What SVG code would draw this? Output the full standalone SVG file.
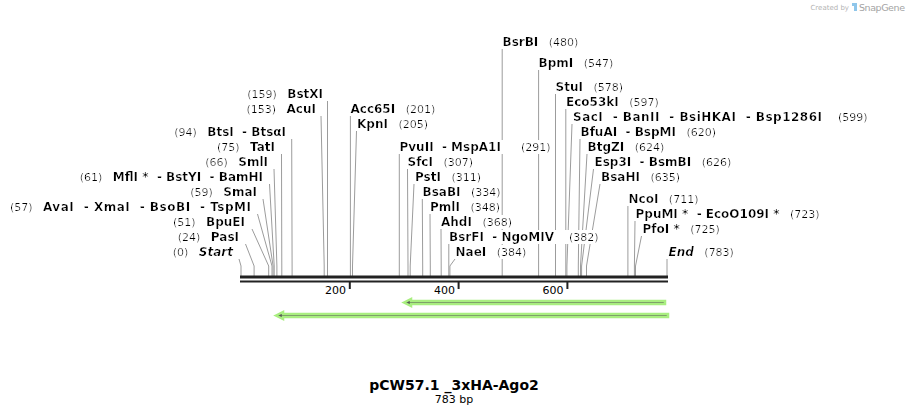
<svg xmlns="http://www.w3.org/2000/svg" width="909" height="415" viewBox="0 0 909 415">
<defs>
<style>
text{font-family:"DejaVu Sans",Verdana,sans-serif;fill:#000;white-space:pre}
.t{font-size:11px}
.n{font-size:12px;font-weight:bold}
.s{font-size:11px;font-weight:normal}
.i{font-style:italic}
.lbl{filter:url(#bg)}
.ln{fill:none;stroke:#9c9c9c;stroke-width:1}
.bb{fill:#222}
.feat{fill:#555;stroke:#a9ee80;stroke-width:2.5;stroke-linejoin:miter}
</style>
<filter id="bg" x="0" y="0" width="1" height="1"><feFlood flood-color="#ffffff"/><feComposite in="SourceGraphic" operator="over"/></filter>
</defs>
<rect width="909" height="415" fill="#fff"/>
<g id="logo"><text x="849" y="10" font-size="7" text-anchor="end" style="fill:#b4b4b4">Created by</text><path d="M852 3 h5 v8 h-3 v-5 h-2 z" fill="#8fc6ea"/><text x="859" y="11" font-size="9.5" textLength="46" style="fill:#a4a4a4">SnapGene</text></g>
<g id="connectors">
<polyline class="ln" points="327.5,101 327.5,266 327.5,276"/>
<polyline class="ln" points="321,116 324.2,266 324.2,276"/>
<polyline class="ln" points="291.7,139 292.1,266 292.1,276"/>
<polyline class="ln" points="281.5,154 281.8,266 281.8,276"/>
<polyline class="ln" points="274,169 276.9,266 276.9,276"/>
<polyline class="ln" points="269.5,184 274.2,266 274.2,276"/>
<polyline class="ln" points="263,199 273.1,266 273.1,276"/>
<polyline class="ln" points="257.5,214 272,266 272,276"/>
<polyline class="ln" points="252,229 268.7,266 268.7,276"/>
<polyline class="ln" points="245.5,244 254.1,266 254.1,276"/>
<polyline class="ln" points="239,259 241,266 241,276"/>
<polyline class="ln" points="350.4,116 350.4,266 350.4,276"/>
<polyline class="ln" points="356.5,131 352.5,266 352.5,276"/>
<polyline class="ln" points="399.3,154 399.3,266 399.3,276"/>
<polyline class="ln" points="407.5,169 408,266 408,276"/>
<polyline class="ln" points="414,184 410.2,266 410.2,276"/>
<polyline class="ln" points="422.3,199 422.7,266 422.7,276"/>
<polyline class="ln" points="430,214 430.3,266 430.3,276"/>
<polyline class="ln" points="441,229 441.2,266 441.2,276"/>
<polyline class="ln" points="448.8,244 448.8,266 448.8,276"/>
<polyline class="ln" points="455,259 449.9,266 449.9,276"/>
<polyline class="ln" points="502.2,49 502.2,266 502.2,276"/>
<polyline class="ln" points="538.6,70 538.6,266 538.6,276"/>
<polyline class="ln" points="555.5,94 555.5,266 555.5,276"/>
<polyline class="ln" points="565.8,109 565.8,266 565.8,276"/>
<polyline class="ln" points="572,124 566.9,266 566.9,276"/>
<polyline class="ln" points="580,139 578.3,266 578.3,276"/>
<polyline class="ln" points="587,154 580.5,266 580.5,276"/>
<polyline class="ln" points="593.5,169 581.6,266 581.6,276"/>
<polyline class="ln" points="600,184 586.5,266 586.5,276"/>
<polyline class="ln" points="627.9,206 627.9,266 627.9,276"/>
<polyline class="ln" points="635,221 634.4,266 634.4,276"/>
<polyline class="ln" points="641.5,236 635.5,266 635.5,276"/>
<polyline class="ln" points="667,259 667,266 667,276"/>
</g>
<g id="labels-left" text-anchor="end">
<g id="BstXI"><text class="lbl" x="323" y="98"><tspan class="s">(159)   </tspan><tspan class="n">BstXI</tspan></text></g>
<g id="AcuI"><text class="lbl" x="316" y="113"><tspan class="s">(153)   </tspan><tspan class="n">AcuI</tspan></text></g>
<g id="BtsI"><text class="lbl" x="286" y="136"><tspan class="s">(94)   </tspan><tspan class="n">BtsI  - BtsαI</tspan></text></g>
<g id="TatI"><text class="lbl" x="275" y="151"><tspan class="s">(75)   </tspan><tspan class="n">TatI</tspan></text></g>
<g id="SmlI"><text class="lbl" x="268" y="166"><tspan class="s">(66)   </tspan><tspan class="n">SmlI</tspan></text></g>
<g id="MflI"><text class="lbl" x="263" y="181"><tspan class="s">(61)   </tspan><tspan class="n">MflI *  - BstYI  - BamHI</tspan></text></g>
<g id="SmaI"><text class="lbl" x="257" y="196"><tspan class="s">(59)   </tspan><tspan class="n">SmaI</tspan></text></g>
<g id="AvaI"><text class="lbl" x="251" y="211"><tspan class="s">(57)   </tspan><tspan class="n" textLength="208" lengthAdjust="spacing">AvaI  - XmaI  - BsoBI  - TspMI</tspan></text></g>
<g id="BpuEI"><text class="lbl" x="245" y="226"><tspan class="s">(51)   </tspan><tspan class="n">BpuEI</tspan></text></g>
<g id="PasI"><text class="lbl" x="239" y="241"><tspan class="s">(24)   </tspan><tspan class="n">PasI</tspan></text></g>
<g id="Start"><text class="lbl" x="233" y="256"><tspan class="s">(0)   </tspan><tspan class="n i">Start</tspan></text></g>
</g>
<g id="labels-mid">
<g id="Acc65I"><text class="lbl" x="350.5" y="113"><tspan class="n">Acc65I</tspan><tspan class="s">   (201)</tspan></text></g>
<g id="KpnI"><text class="lbl" x="357" y="128"><tspan class="n">KpnI</tspan><tspan class="s">   (205)</tspan></text></g>
<g id="PvuII"><text class="lbl" x="399.5" y="151"><tspan class="n">PvuII  - MspA1I</tspan><tspan class="s" x="521">(291)</tspan></text></g>
<g id="SfcI"><text class="lbl" x="407.5" y="166"><tspan class="n">SfcI</tspan><tspan class="s">   (307)</tspan></text></g>
<g id="PstI"><text class="lbl" x="415" y="181"><tspan class="n">PstI</tspan><tspan class="s">   (311)</tspan></text></g>
<g id="BsaBI"><text class="lbl" x="422.5" y="196"><tspan class="n">BsaBI</tspan><tspan class="s">   (334)</tspan></text></g>
<g id="PmlI"><text class="lbl" x="430" y="211"><tspan class="n">PmlI</tspan><tspan class="s">   (348)</tspan></text></g>
<g id="AhdI"><text class="lbl" x="441" y="226"><tspan class="n">AhdI</tspan><tspan class="s">   (368)</tspan></text></g>
<g id="BsrFI"><text class="lbl" x="449" y="241"><tspan class="n">BsrFI  - NgoMIV</tspan><tspan class="s" x="569">(382)</tspan></text></g>
<g id="NaeI"><text class="lbl" x="455.5" y="256"><tspan class="n">NaeI</tspan><tspan class="s">   (384)</tspan></text></g>
</g>
<g id="labels-right">
<g id="BsrBI"><text class="lbl" x="502.5" y="46"><tspan class="n">BsrBI</tspan><tspan class="s">   (480)</tspan></text></g>
<g id="BpmI"><text class="lbl" x="538.5" y="67"><tspan class="n">BpmI</tspan><tspan class="s">   (547)</tspan></text></g>
<g id="StuI"><text class="lbl" x="555.5" y="91"><tspan class="n">StuI</tspan><tspan class="s">   (578)</tspan></text></g>
<g id="Eco53kI"><text class="lbl" x="566" y="106"><tspan class="n">Eco53kI</tspan><tspan class="s">   (597)</tspan></text></g>
<g id="SacI"><text class="lbl" x="573" y="121"><tspan class="n" textLength="249" lengthAdjust="spacing">SacI  - BanII  - BsiHKAI  - Bsp1286I</tspan><tspan class="s" x="838">(599)</tspan></text></g>
<g id="BfuAI"><text class="lbl" x="580.5" y="136"><tspan class="n">BfuAI  - BspMI</tspan><tspan class="s">   (620)</tspan></text></g>
<g id="BtgZI"><text class="lbl" x="587.5" y="151"><tspan class="n">BtgZI</tspan><tspan class="s">   (624)</tspan></text></g>
<g id="Esp3I"><text class="lbl" x="594.5" y="166"><tspan class="n">Esp3I  - BsmBI</tspan><tspan class="s">   (626)</tspan></text></g>
<g id="BsaHI"><text class="lbl" x="601" y="181"><tspan class="n">BsaHI</tspan><tspan class="s">   (635)</tspan></text></g>
<g id="NcoI"><text class="lbl" x="628.5" y="203"><tspan class="n">NcoI</tspan><tspan class="s">   (711)</tspan></text></g>
<g id="PpuMI"><text class="lbl" x="635.5" y="218"><tspan class="n">PpuMI *  - EcoO109I *</tspan><tspan class="s">   (723)</tspan></text></g>
<g id="PfoI"><text class="lbl" x="642.5" y="233"><tspan class="n">PfoI *</tspan><tspan class="s">   (725)</tspan></text></g>
<g id="End"><text class="lbl" x="668.5" y="256"><tspan class="n i">End</tspan><tspan class="s">   (783)</tspan></text></g>
</g>
<g id="backbone">
<rect class="bb" x="240" y="275.5" width="428" height="3"/>
<rect class="bb" x="240" y="280.5" width="428" height="2"/>
<rect class="bb" x="348.8" y="282" width="2" height="7"/>
<rect class="bb" x="457.6" y="282" width="2" height="7"/>
<rect class="bb" x="566.4" y="282" width="2" height="7"/>
<text class="t" x="346" y="293.5" text-anchor="end">200</text>
<text class="t" x="455" y="293.5" text-anchor="end">400</text>
<text class="t" x="563.5" y="293.5" text-anchor="end">600</text>
</g>
<g id="feature1"><path class="feat" d="M404,302.5 L411,299 L411,301 L665,301 L665,304 L411,304 L411,306 Z"/></g>
<g id="feature2"><path class="feat" d="M276,315.5 L283,312 L283,314 L668,314 L668,317 L283,317 L283,319 Z"/></g>
<g id="title" text-anchor="middle">
<text x="454" y="390" font-size="14" font-weight="bold">pCW57.1 _3xHA-Ago2</text>
<text class="t" x="454" y="403">783 bp</text>
</g>
</svg>
